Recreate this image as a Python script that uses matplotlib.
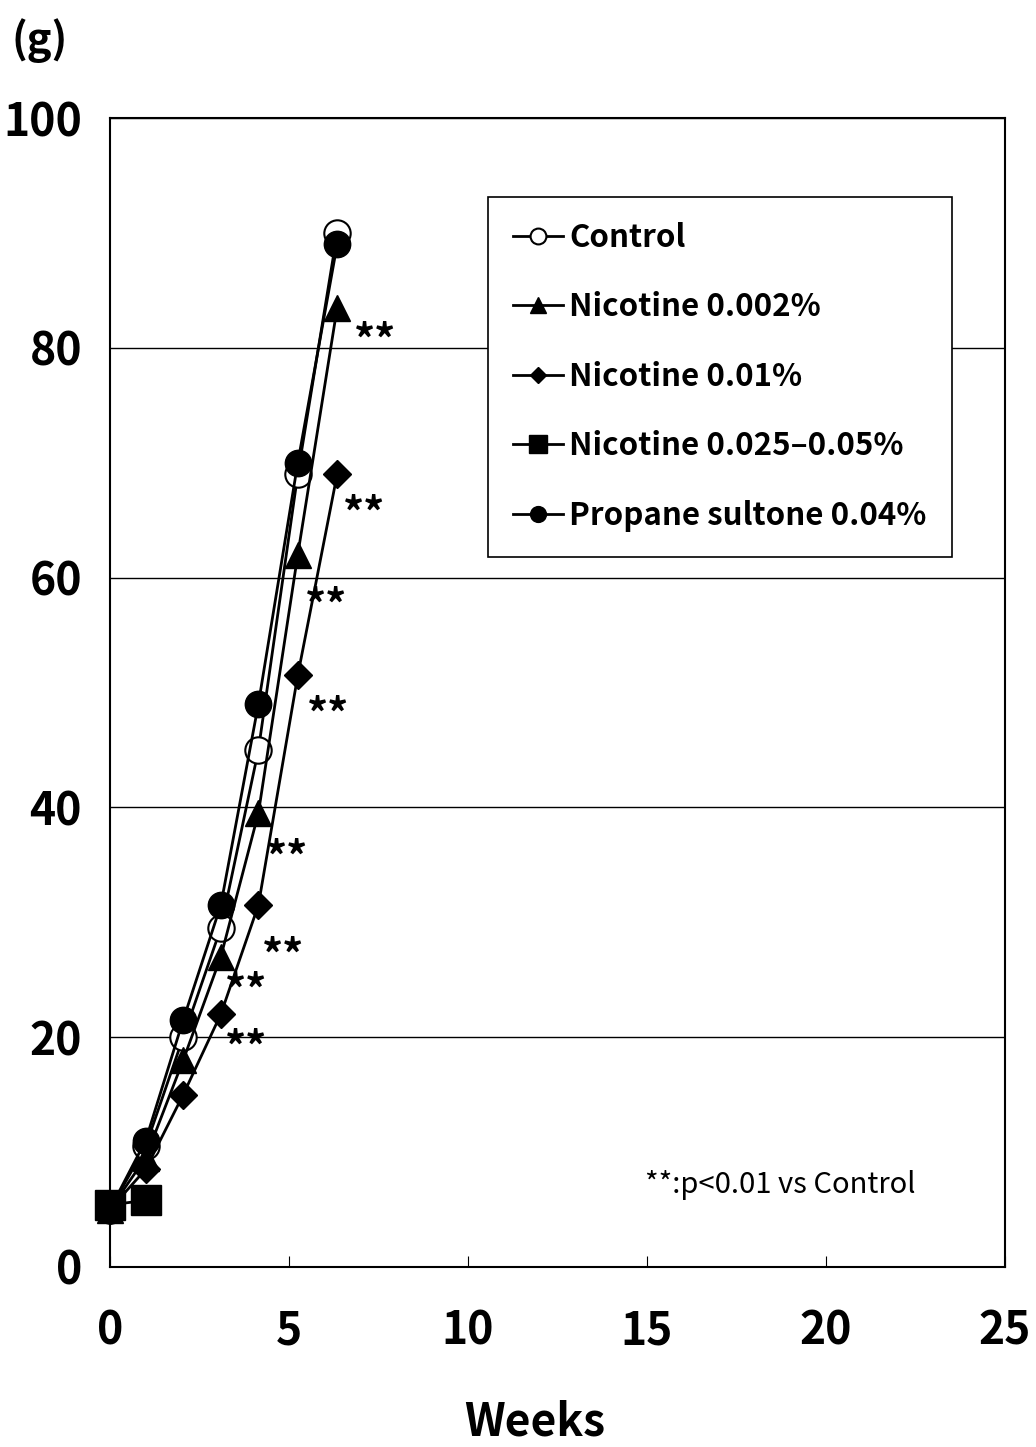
import matplotlib.pyplot as plt

plt.rcParams['font.family'] = ['Noto Sans CJK JP', 'DejaVu Sans']

# weeks at which the animals were weighed
weeks = [0, 1.0, 2.05, 3.1, 4.15, 5.25, 6.35]

control = [5, 10.5, 20, 29.5, 45, 69, 90]
nic_0002 = [5, 9.5, 18, 27, 39.5, 62, 83.5]
nic_001 = [5, 8.5, 15, 22, 31.5, 51.5, 69]
nic_high_weeks = [0, 1.0]
nic_high = [5.4, 5.8]
propane = [5, 11, 21.5, 31.5, 49, 70, 89]

# "**" markers (x, y) in data units
star_x = [7.4, 7.1, 6.05, 6.1, 4.95, 4.85, 3.8, 3.8]
star_y = [80.5, 65.5, 57.5, 48, 35.5, 27, 24, 19]

fig = plt.figure(figsize=(10.36, 14.47), dpi=100)
ax = fig.add_axes([0.106, 0.1244, 0.864, 0.794])

ms = 19
ax.plot(weeks, control, '-o', color='black', mfc='white', mec='black', mew=1.5,
        ms=ms, lw=2, clip_on=False, label='Control')
ax.plot(weeks, nic_0002, '-^', color='black', ms=ms, lw=2, clip_on=False,
        label='Nicotine 0.002%')
ax.plot(weeks, nic_001, '-D', color='black', ms=ms - 5, lw=2, clip_on=False,
        label='Nicotine 0.01%')
ax.plot(weeks, propane, '-o', color='black', ms=ms, lw=2, zorder=3, clip_on=False,
        label='Propane sultone 0.04%')
ax.plot(nic_high_weeks, nic_high, '-s', color='black', ms=ms + 2, lw=2, zorder=5,
        clip_on=False, label='Nicotine 0.025\u20130.05%')

# keep the legend in the original order
handles, labels = ax.get_legend_handles_labels()
order = [0, 1, 2, 4, 3]

for sx, sy in zip(star_x, star_y):
    ax.text(sx, sy, '**', fontsize=30, fontweight='bold', ha='center', va='center')

ax.text(0.749, 0.071, '**:p<0.01 vs Control', transform=ax.transAxes,
        fontsize=21, ha='center', va='center')

ax.set_xlim(0, 25)
ax.set_ylim(0, 100)
ax.set_xticks([0, 5, 10, 15, 20, 25])
ax.set_yticks([0, 20, 40, 60, 80, 100])
ax.tick_params(axis='x', direction='in', length=8, pad=30, labelsize=32)
ax.tick_params(axis='y', length=0, pad=20, labelsize=32)
for lab in ax.get_xticklabels() + ax.get_yticklabels():
    lab.set_fontweight('bold')
ax.yaxis.grid(True, color='black', lw=1)
for sp in ax.spines.values():
    sp.set_linewidth(1.5)

fig.text(535 / 1036, 1 - 1422 / 1447, 'Weeks', fontsize=32, fontweight='bold',
         ha='center', va='center')
fig.text(0.038, 0.972, '(g)', fontsize=30, fontweight='bold', ha='center', va='center')

leg = ax.legend([handles[i] for i in order], [labels[i] for i in order],
                loc='upper left', bbox_to_anchor=(0.405, 0.945),
                markerscale=0.6, handlelength=1.6, handletextpad=0.2,
                labelspacing=1.2, borderpad=0.8, fancybox=False, framealpha=1,
                edgecolor='black', prop={'weight': 'bold', 'size': 22.5})
leg.get_frame().set_linewidth(1.2)
leg.set_zorder(6)

fig.savefig('out.png', dpi=100)
